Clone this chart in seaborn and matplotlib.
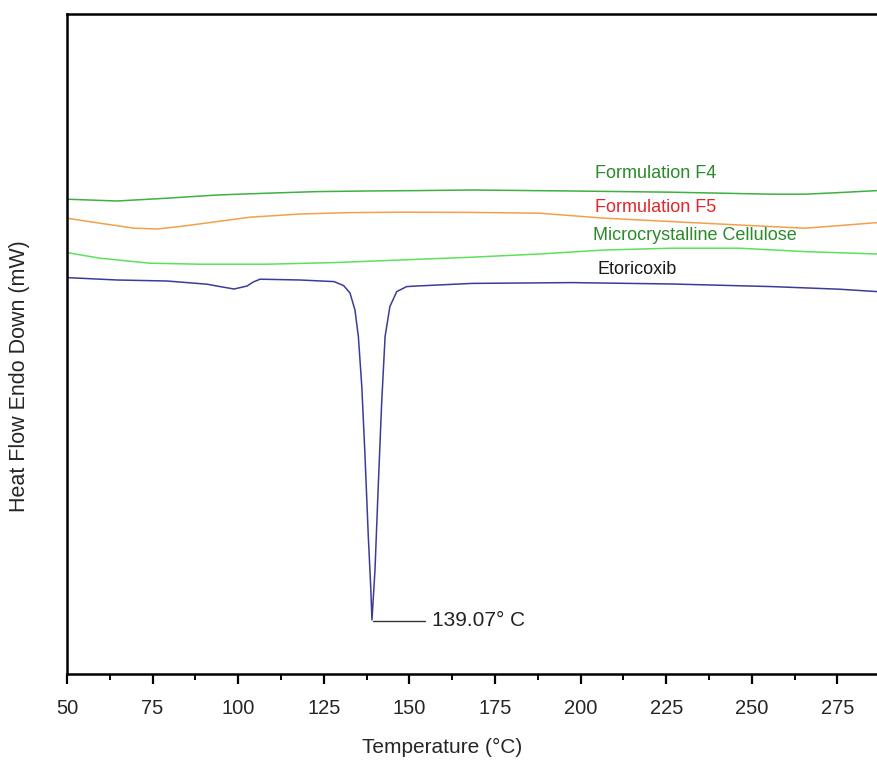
import matplotlib
matplotlib.use("Agg")
import matplotlib.pyplot as plt
from matplotlib.ticker import MultipleLocator
import seaborn as sns

# DSC thermograms (heat flow in arbitrary mW offsets)
t_f4 = [50, 64.6, 79.2, 93.8, 108.4, 123.0, 137.6, 152.2, 168.3, 197.5, 226.7, 255.9,
        265.5, 275.5, 286.6]
hf_f4 = [23.74, 23.65, 23.79, 23.95, 24.04, 24.12, 24.15, 24.17, 24.20, 24.15, 24.09, 23.99,
         23.99, 24.07, 24.17]

t_f5 = [50, 59.6, 69.6, 76.3, 84.2, 93.8, 103.5, 118.1, 132.7, 147.3, 168.3, 187.9,
        207.1, 226.7, 246.3, 265.5, 275.5, 286.6]
hf_f5 = [22.79, 22.54, 22.29, 22.25, 22.40, 22.62, 22.84, 23.00, 23.07, 23.09, 23.08, 23.04,
         22.79, 22.62, 22.45, 22.29, 22.42, 22.57]

t_mcc = [50, 59.6, 74.2, 88.8, 108.4, 128.0, 147.3, 168.3, 187.9, 207.1, 226.7, 246.3,
         265.5, 286.6]
hf_mcc = [21.07, 20.79, 20.54, 20.49, 20.49, 20.57, 20.70, 20.84, 21.00, 21.20, 21.29, 21.29,
          21.12, 21.00]

t_eto = [50, 64.6, 79.2, 90.9, 94.7, 98.8, 102.6, 104.4, 106.4, 118.1, 128.0, 130.8,
         132.65, 134.1, 135.1, 136.1, 137.0, 138.0, 138.7, 139.07, 139.95, 140.9,
         141.9, 142.9, 144.3, 146.3, 149.2, 152.2, 168.3, 197.5, 226.7, 255.9, 275.5, 286.6]
hf_eto = [19.82, 19.70, 19.65, 19.49, 19.37, 19.25, 19.40, 19.60, 19.74, 19.70, 19.62, 19.42,
          19.05, 18.20, 16.87, 14.37, 11.05, 6.87, 4.37, 2.70, 5.20, 9.37,
          13.55, 16.87, 18.37, 19.12, 19.37, 19.40, 19.53, 19.57, 19.50, 19.37, 19.24, 19.12]

peak_t = 139.07
peak_hf = 2.70

sns.set_style("ticks")
plt.rcParams["font.family"] = ["Liberation Sans", "DejaVu Sans"]

fig = plt.figure(figsize=(8.77, 7.61), dpi=100)
ax = fig.add_axes([67 / 877, 87 / 761, 810 / 877, 660 / 761])

line_kw = dict(ax=ax, linewidth=1.1, sort=False, solid_joinstyle="round")
sns.lineplot(x=t_f4, y=hf_f4, color="#3fb03f", **line_kw)
sns.lineplot(x=t_f5, y=hf_f5, color="#f2a04c", **line_kw)
sns.lineplot(x=t_mcc, y=hf_mcc, color="#5ee05e", **line_kw)
sns.lineplot(x=t_eto, y=hf_eto, color="#3c3c96", **line_kw)

ax.text(204.2, 25.05, "Formulation F4", color="#2a8a2a", fontsize=13, va="center")
ax.text(204.2, 23.35, "Formulation F5", color="#e3262b", fontsize=13, va="center")
ax.text(203.6, 21.90, "Microcrystalline Cellulose", color="#2a8a2a", fontsize=13, va="center")
ax.text(204.8, 20.25, "Etoricoxib", color="#1a1a1a", fontsize=13, va="center")

ax.plot([peak_t + 0.3, 154.6], [peak_hf - 0.05, peak_hf - 0.05], color="#333333", linewidth=1)
ax.text(156.6, peak_hf - 0.05, f"{peak_t:.2f}° C", fontsize=15, va="center", color="#222222")

ax.set_xlim(50, 286.57)
ax.set_ylim(0, 33)
ax.xaxis.set_major_locator(MultipleLocator(25))
ax.xaxis.set_minor_locator(MultipleLocator(12.5))
ax.set_yticks([])
ax.tick_params(axis="x", which="major", direction="out", length=7.5, width=1.6,
               labelsize=14.5, pad=10.5, color="black")
ax.tick_params(axis="x", which="minor", direction="out", length=4.5, width=1.4, color="black")

for side in ["left", "top", "bottom"]:
    ax.spines[side].set_linewidth(1.8)
    ax.spines[side].set_color("black")
ax.spines["right"].set_visible(False)

ax.set_xlabel("Temperature (°C)", fontsize=15)
ax.set_ylabel("Heat Flow Endo Down (mW)", fontsize=15.5)
ax.xaxis.set_label_coords((442 - 67) / 810, -64 / 660)
ax.yaxis.set_label_coords(-37 / 810, (674 - 376) / 660)

fig.savefig("out.png", dpi=100)
